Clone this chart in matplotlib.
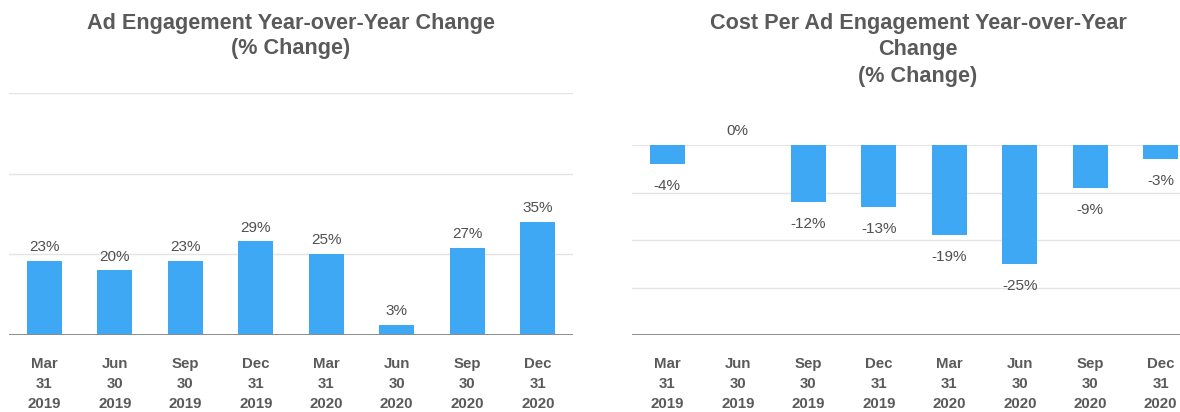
import matplotlib
matplotlib.use('Agg')
import matplotlib.pyplot as plt

# 数据
quarters = ['Mar\n31\n2019', 'Jun\n30\n2019', 'Sep\n30\n2019', 'Dec\n31\n2019',
            'Mar\n31\n2020', 'Jun\n30\n2020', 'Sep\n30\n2020', 'Dec\n31\n2020']
engagement_change = [23, 20, 23, 29, 25, 3, 27, 35]
cost_change = [-4, 0, -12, -13, -19, -25, -9, -3]

title_left = 'Ad Engagement Year-over-Year Change\n(% Change)'
title_right = 'Cost Per Ad Engagement Year-over-Year\nChange\n(% Change)'

bar_color = '#3ea8f5'
text_color = '#5a5a5a'
grid_color = '#e4e4e4'
axis_color = '#8c8c8c'

plt.rcParams['font.family'] = ['Liberation Sans', 'DejaVu Sans']

fig = plt.figure(figsize=(11.8, 4.12), dpi=100)
W, H = 1180, 412

def px_axes(x0, x1, ytop, ybot):
    return fig.add_axes([x0 / W, 1 - ybot / H, (x1 - x0) / W, (ybot - ytop) / H])

def style(ax):
    for s in ax.spines.values():
        s.set_visible(False)
    ax.set_yticks([])
    ax.tick_params(axis='x', length=0, pad=16)
    ax.set_xticks(range(len(quarters)))
    ax.set_xticklabels(quarters, fontsize=10.8, fontweight='bold', color=text_color,
                       linespacing=1.52)
    ax.set_xlim(-0.5, len(quarters) - 0.5)

# 左图
ax1 = px_axes(9, 573, 93, 335)
style(ax1)
ax1.set_ylim(0, 75)
for g in [25, 50, 75]:
    ax1.axhline(g, color=grid_color, lw=1, zorder=0)
ax1.axhline(0, color=axis_color, lw=1.4, zorder=3)
x = range(len(quarters))
ax1.bar(x, engagement_change, width=0.49, color=bar_color, zorder=2)
for i, v in enumerate(engagement_change):
    ax1.annotate(f'{v}%', (i, v), xytext=(0, 10), textcoords='offset points',
                 ha='center', va='center', fontsize=11, color='#505050')
fig.text(291 / W, 1 - 36 / H, title_left, ha='center', va='center',
         fontsize=15.6, fontweight='bold', color=text_color, linespacing=1.3)

# 右图
ax2 = px_axes(632, 1196, 145, 335)
style(ax2)
ax2.set_ylim(-40, 0)
for g in [0, -10, -20, -30]:
    ax2.axhline(g, color=grid_color, lw=1, zorder=0)
ax2.axhline(-40, color=axis_color, lw=1.4, zorder=3)
ax2.bar(x, cost_change, width=0.49, color=bar_color, zorder=2)
for i, v in enumerate(cost_change):
    off = 10 if v >= 0 else -16
    ax2.annotate(f'{v}%', (i, v), xytext=(0, off), textcoords='offset points',
                 ha='center', va='center', fontsize=11, color='#505050',
                 annotation_clip=False)
fig.text(918 / W, 1 - 50 / H, title_right, ha='center', va='center',
         fontsize=15.6, fontweight='bold', color=text_color, linespacing=1.36)

fig.savefig('out.png', dpi=100)
